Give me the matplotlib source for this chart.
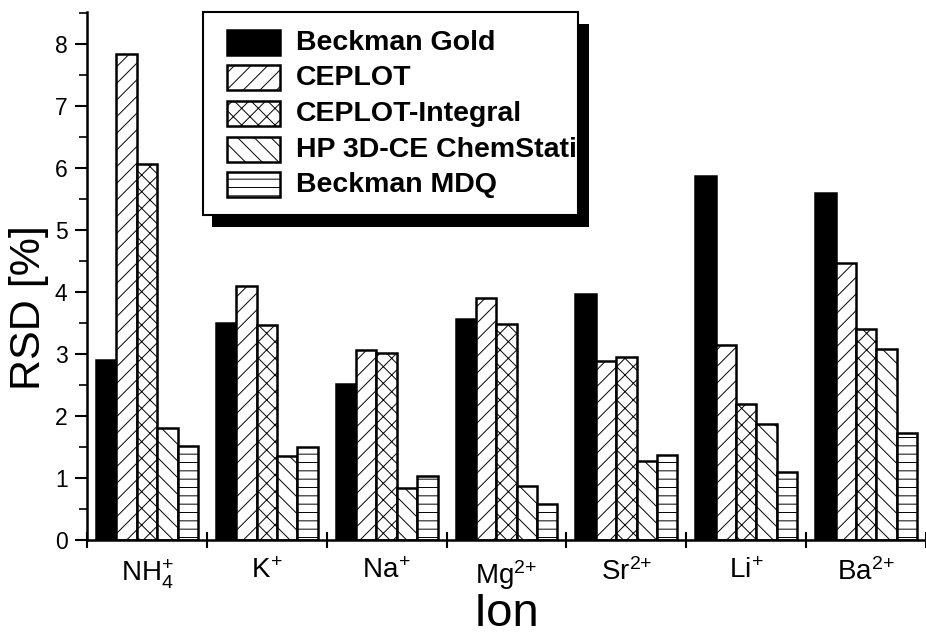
import matplotlib
matplotlib.use("Agg")
import matplotlib.pyplot as plt
import numpy as np
from matplotlib.patches import Rectangle
from matplotlib.ticker import MultipleLocator

plt.rcParams['font.family'] = ['Liberation Sans', 'DejaVu Sans']
plt.rcParams['mathtext.default'] = 'regular'
plt.rcParams['hatch.linewidth'] = 0.7

ions = [r"NH$_4^{+}$", r"K$^{\!+}$", r"Na$^{\!+}$", r"Mg$^{2{+}}$",
        r"Sr$^{2{+}}$", r"Li$^{\!+}$", r"Ba$^{2{+}}$"]
methods = ["Beckman Gold", "CEPLOT", "CEPLOT-Integral", "HP 3D-CE ChemStation", "Beckman MDQ"]
beckman_gold = [2.91, 3.50, 2.51, 3.57, 3.96, 5.87, 5.60]
ceplot = [7.83, 4.10, 3.07, 3.90, 2.88, 3.15, 4.47]
ceplot_integral = [6.07, 3.46, 3.01, 3.49, 2.96, 2.20, 3.40]
hp_chemstation = [1.80, 1.35, 0.84, 0.87, 1.27, 1.88, 3.08]
beckman_mdq = [1.52, 1.50, 1.03, 0.58, 1.38, 1.10, 1.73]
series = [beckman_gold, ceplot, ceplot_integral, hp_chemstation, beckman_mdq]

styles = [dict(facecolor='black', hatch=None),
          dict(facecolor='white', hatch='//'),
          dict(facecolor='white', hatch='xx'),
          dict(facecolor='white', hatch='\\\\'),
          dict(facecolor='white', hatch='--')]

fig = plt.figure(figsize=(9.26, 6.4), dpi=100)
ax = fig.add_axes([0.094, 0.156, 0.906, 0.826])

x = np.arange(len(ions))
w = 0.17
for k, vals in enumerate(series):
    ax.bar(x + (k - 2) * w, vals, w, edgecolor='black', linewidth=1.8,
           **styles[k])

ax.set_xlim(-0.5, 6.445)
ax.set_ylim(0, 8.52)
ax.spines['top'].set_visible(False)
ax.spines['right'].set_visible(False)
ax.spines['left'].set_linewidth(1.8)
ax.spines['bottom'].set_linewidth(1.8)

ax.set_xticks(np.arange(-0.5, 7, 1))
ax.set_xticklabels([])
ax.set_xticks(x, minor=True)
ax.set_xticklabels(ions, minor=True, fontsize=20)
ax.tick_params(axis='x', which='major', direction='inout', length=12, width=1.5)
ax.tick_params(axis='x', which='minor', length=0, pad=13)

ax.yaxis.set_major_locator(MultipleLocator(1))
ax.yaxis.set_minor_locator(MultipleLocator(0.5))
ax.tick_params(axis='y', which='major', direction='out', length=9, width=1.5,
               labelsize=16.5, pad=5)
ax.tick_params(axis='y', which='minor', direction='out', length=6, width=1.2)

ax.set_ylabel("RSD [%]", fontsize=31)
ax.yaxis.set_label_coords(-0.045, 0.44)
ax.set_xlabel("Ion", fontsize=34, labelpad=0)

# legend box with drop shadow, text clipped at the frame like the original
W, H = 926.0, 640.0
def fx(px):
    return px / W
def fy(py):
    return 1 - py / H

shadow = Rectangle((fx(212), fy(227)), fx(589) - fx(212), fy(24) - fy(227),
                   transform=fig.transFigure, facecolor='black', edgecolor='none',
                   zorder=10)
frame = Rectangle((fx(203), fy(215)), fx(578) - fx(203), fy(12) - fy(215),
                  transform=fig.transFigure, facecolor='white', edgecolor='black',
                  linewidth=1.5, zorder=11)
fig.add_artist(shadow)
fig.add_artist(frame)
for k, name in enumerate(methods):
    top = 29.5 + k * 35.7
    h = Rectangle((fx(227), fy(top + 25)), fx(280) - fx(227), fy(top) - fy(top + 25),
                  transform=fig.transFigure, edgecolor='black', linewidth=1.8,
                  zorder=12, **styles[k])
    fig.add_artist(h)
    t = fig.text(fx(296), fy(top + 13), name, fontsize=20.5, fontweight='bold',
                 va='center', ha='left', zorder=13)
    t.set_clip_path(frame)

fig.savefig("out.png", dpi=100)
